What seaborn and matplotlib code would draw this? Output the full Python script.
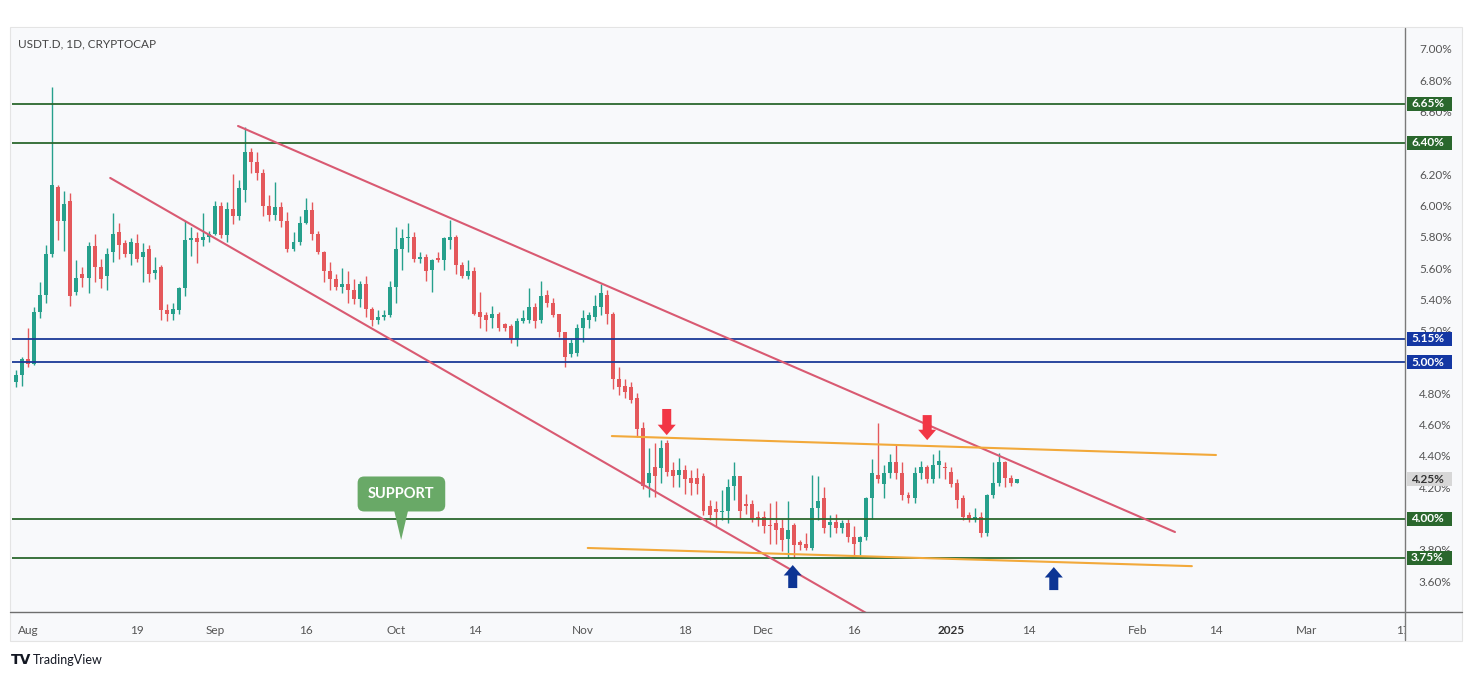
import numpy as np
import pandas as pd
import matplotlib
matplotlib.use("Agg")
import matplotlib.pyplot as plt
import seaborn as sns
from matplotlib.patches import Rectangle, Polygon
from matplotlib.lines import Line2D
import matplotlib.transforms as mtransforms

# ---------------- data (daily candles, USDT dominance %) ----------------
start_date = "2024-07-30"
opens = [4.87, 4.92, 5.02, 4.99, 5.32, 5.43, 5.69, 6.12, 5.90, 6.03, 5.45, 5.56, 5.54, 5.74, 5.61, 5.55,
         5.70, 5.83, 5.76, 5.69, 5.76, 5.67, 5.72, 5.57, 5.61, 5.33, 5.31, 5.33, 5.47, 5.78, 5.79, 5.78,
         5.80, 5.82, 6.00, 5.81, 5.98, 5.93, 6.10, 6.34, 6.28, 6.21, 6.00, 5.94, 5.99, 5.90, 5.72, 5.77,
         5.89, 5.97, 5.82, 5.70, 5.58, 5.53, 5.48, 5.50, 5.46, 5.40, 5.50, 5.34, 5.27, 5.29, 5.30, 5.48,
         5.72, 5.79, 5.80, 5.66, 5.67, 5.59, 5.665, 5.65, 5.78, 5.80, 5.62, 5.55, 5.58, 5.32, 5.30, 5.28,
         5.31, 5.24, 5.23, 5.15, 5.26, 5.27, 5.35, 5.27, 5.43, 5.38, 5.31, 5.19, 5.05, 5.06, 5.22, 5.27,
         5.29, 5.35, 5.43, 5.31, 4.89, 4.85, 4.84, 4.77, 4.58, 4.23, 4.33, 4.32, 4.48, 4.31, 4.28, 4.31,
         4.26, 4.26, 4.27, 4.08, 4.06, 4.04, 4.05, 4.21, 4.27, 4.09, 4.09, 4.01, 4.01, 3.96, 3.97, 3.94,
         3.87, 3.96, 3.85, 3.84, 3.81, 4.07, 4.13, 3.96, 3.98, 3.94, 3.97, 3.88, 3.85, 3.88, 4.13, 4.28,
         4.22, 4.29, 4.36, 4.29, 4.15, 4.13, 4.29, 4.33, 4.25, 4.34, 4.33, 4.30, 4.23, 4.13, 4.02, 4.00,
         4.01, 3.91, 4.15, 4.23, 4.36, 4.26, 4.23]
highs = [4.95, 5.03, 5.22, 5.35, 5.51, 5.75, 6.76, 6.13, 6.09, 6.08, 5.65, 5.61, 5.77, 5.82, 5.66, 5.73,
         5.95, 5.89, 5.78, 5.79, 5.82, 5.76, 5.75, 5.67, 5.62, 5.37, 5.38, 5.48, 5.90, 5.86, 5.83, 5.95,
         5.84, 6.03, 6.02, 6.02, 6.20, 6.16, 6.50, 6.37, 6.34, 6.23, 6.07, 6.15, 6.02, 5.96, 5.83, 5.93,
         6.05, 6.02, 5.84, 5.71, 5.64, 5.56, 5.60, 5.58, 5.53, 5.52, 5.55, 5.35, 5.33, 5.33, 5.52, 5.86,
         5.85, 5.89, 5.83, 5.70, 5.69, 5.66, 5.70, 5.80, 5.91, 5.81, 5.64, 5.65, 5.61, 5.45, 5.32, 5.36,
         5.32, 5.25, 5.24, 5.28, 5.33, 5.47, 5.38, 5.52, 5.46, 5.41, 5.31, 5.19, 5.15, 5.24, 5.33, 5.32,
         5.43, 5.50, 5.46, 5.32, 4.97, 4.89, 4.87, 4.80, 4.62, 4.45, 4.48, 4.50, 4.50, 4.36, 4.39, 4.34,
         4.31, 4.32, 4.29, 4.12, 4.11, 4.18, 4.25, 4.36, 4.27, 4.16, 4.12, 4.05, 4.05, 4.10, 4.11, 4.00,
         4.11, 3.97, 3.86, 3.91, 4.28, 4.27, 4.20, 4.02, 4.03, 3.99, 4.00, 3.95, 3.89, 4.14, 4.38, 4.61,
         4.34, 4.41, 4.47, 4.36, 4.17, 4.33, 4.37, 4.34, 4.41, 4.44, 4.36, 4.33, 4.25, 4.15, 4.04, 4.07,
         4.04, 4.16, 4.36, 4.42, 4.37, 4.28, 4.25]
lows = [4.84, 4.85, 4.97, 4.98, 5.28, 5.38, 5.67, 5.78, 5.71, 5.36, 5.43, 5.48, 5.44, 5.51, 5.47, 5.46,
        5.64, 5.66, 5.67, 5.62, 5.64, 5.51, 5.51, 5.53, 5.27, 5.26, 5.27, 5.31, 5.42, 5.68, 5.63, 5.74,
        5.77, 5.81, 5.79, 5.77, 5.88, 5.91, 6.02, 6.21, 6.16, 5.93, 5.90, 5.91, 5.86, 5.70, 5.71, 5.75,
        5.88, 5.78, 5.69, 5.51, 5.46, 5.46, 5.44, 5.38, 5.37, 5.35, 5.29, 5.23, 5.24, 5.27, 5.29, 5.38,
        5.59, 5.70, 5.64, 5.63, 5.52, 5.45, 5.64, 5.59, 5.72, 5.56, 5.54, 5.53, 5.30, 5.22, 5.20, 5.22,
        5.20, 5.20, 5.12, 5.10, 5.25, 5.25, 5.22, 5.25, 5.35, 5.29, 5.16, 4.97, 5.03, 5.04, 5.13, 5.22,
        5.26, 5.30, 5.24, 4.83, 4.79, 4.77, 4.74, 4.52, 4.19, 4.14, 4.14, 4.23, 4.27, 4.20, 4.20, 4.16,
        4.15, 4.16, 4.02, 3.99, 3.95, 3.99, 3.97, 4.12, 4.00, 4.03, 3.98, 3.95, 3.91, 3.84, 3.84, 3.79,
        3.75, 3.75, 3.80, 3.80, 3.80, 3.99, 3.91, 3.88, 3.91, 3.91, 3.85, 3.77, 3.77, 3.86, 4.00, 4.23,
        4.13, 4.26, 4.25, 4.12, 4.10, 4.10, 4.25, 4.23, 4.23, 4.26, 4.25, 4.20, 4.07, 3.99, 3.98, 3.98,
        3.88, 3.89, 4.13, 4.21, 4.20, 4.21, 4.23]
closes = [4.92, 5.02, 4.99, 5.32, 5.43, 5.69, 6.13, 5.90, 6.01, 5.42, 5.54, 5.54, 5.74, 5.61, 5.53, 5.69,
          5.82, 5.75, 5.69, 5.77, 5.66, 5.70, 5.56, 5.59, 5.33, 5.31, 5.34, 5.47, 5.78, 5.79, 5.77, 5.80,
          5.82, 6.00, 5.81, 5.98, 5.93, 6.11, 6.34, 6.28, 6.21, 6.00, 5.94, 5.99, 5.90, 5.72, 5.77, 5.89,
          5.97, 5.82, 5.70, 5.58, 5.53, 5.48, 5.50, 5.46, 5.40, 5.50, 5.34, 5.27, 5.29, 5.30, 5.48, 5.72,
          5.79, 5.80, 5.66, 5.67, 5.58, 5.65, 5.655, 5.79, 5.80, 5.62, 5.55, 5.58, 5.31, 5.29, 5.27, 5.31,
          5.22, 5.22, 5.15, 5.26, 5.28, 5.35, 5.26, 5.42, 5.38, 5.30, 5.19, 5.03, 5.12, 5.22, 5.28, 5.30,
          5.36, 5.44, 5.31, 4.89, 4.84, 4.81, 4.76, 4.57, 4.21, 4.29, 4.27, 4.45, 4.30, 4.27, 4.31, 4.25,
          4.23, 4.22, 4.05, 4.02, 4.04, 4.05, 4.20, 4.27, 4.05, 4.08, 4.00, 4.00, 3.95, 3.95, 3.93, 3.86,
          3.93, 3.83, 3.83, 3.81, 4.07, 4.11, 3.94, 3.98, 3.94, 3.97, 3.88, 3.84, 3.88, 4.13, 4.29, 4.25,
          4.29, 4.36, 4.29, 4.15, 4.13, 4.29, 4.33, 4.25, 4.34, 4.37, 4.32, 4.22, 4.12, 4.01, 4.00, 4.01,
          3.91, 4.15, 4.23, 4.36, 4.26, 4.23, 4.25]

# horizontal levels (value, colour key)
level_values = [6.65, 6.40, 5.15, 5.00, 4.00, 3.75]
level_kinds = ["green", "green", "blue", "blue", "green", "green"]
last_price = 4.25

# trend lines: day offsets from 2024-08-01 and values
trend_names = ["chan_top", "chan_top", "chan_bot", "chan_bot",
               "range_top", "range_top", "range_bot", "range_bot"]
trend_days = [34.8, 190.2, 13.6, 145.0, 96.8, 197.0, 92.8, 193.0]
trend_vals = [6.508, 3.914, 6.176, 3.263, 4.527, 4.406, 3.812, 3.696]

# x tick labels (date, text)
tick_dates = ["2024-08-01", "2024-08-19", "2024-09-01", "2024-09-16", "2024-10-01", "2024-10-14",
              "2024-11-01", "2024-11-18", "2024-12-01", "2024-12-16", "2025-01-01", "2025-01-14",
              "2025-02-01", "2025-02-14", "2025-03-01", "2025-03-17"]
tick_texts = ["Aug", "19", "Sep", "16", "Oct", "14", "Nov", "18", "Dec", "16", "2025", "14",
              "Feb", "14", "Mar", "17"]
price_ticks = [3.6, 3.8, 4.0, 4.2, 4.4, 4.6, 4.8, 5.0, 5.2, 5.4, 5.6, 5.8, 6.0, 6.2, 6.4, 6.6, 6.8, 7.0]

# arrows: (day, tail value, tip value)
red_arrows = [(105.9, 4.700, 4.533), (149.1, 4.661, 4.501)]
blue_arrows = [(126.8, 3.556, 3.703), (170.1, 3.543, 3.690)]

# ---------------- style ----------------
sns.set_theme(style="white")
plt.rcParams["font.family"] = ["Lato", "DejaVu Sans"]

UP = "#26a08c"
DOWN = "#e4585b"
PANEL = "#f8f9fb"
GREEN_LVL = "#2a672d"
BLUE_LVL = "#1b3a97"
PINK = "#d95a72"
ORANGE = "#f2a93a"

W, H = 1470, 677
fig = plt.figure(figsize=(W / 100, H / 100), dpi=100)
fig.patch.set_facecolor("white")

def fx(px):
    return px / W

def fy(py):
    return 1 - py / H

# panel background
fig.patches.append(Rectangle((fx(10), fy(641)), fx(1462) - fx(10), fy(27) - fy(641),
                             transform=fig.transFigure, facecolor=PANEL,
                             edgecolor="#e4e4e4", lw=0.8, zorder=-2))

ax = fig.add_axes([fx(12), fy(612), fx(1405) - fx(12), fy(28) - fy(612)])
ax.set_facecolor(PANEL)
for s in ax.spines.values():
    s.set_visible(False)

ref = pd.Timestamp("2024-08-01")
days = np.asarray((pd.date_range(start_date, periods=len(opens)) - ref).days, dtype=float)
o = np.array(opens); h = np.array(highs); l = np.array(lows); c = np.array(closes)
up = c >= o
cols = np.where(up, UP, DOWN)

# wicks
ax.vlines(days, l, h, colors=cols, linewidth=1.0, zorder=2)
# bodies
bottoms = np.minimum(o, c)
heights = np.maximum(np.abs(c - o), 0.008)
ax.bar(days, heights, bottom=bottoms, width=0.66, color=cols, linewidth=0, zorder=2.2)

# levels
for v, k in zip(level_values, level_kinds):
    ax.axhline(v, color=GREEN_LVL if k == "green" else BLUE_LVL, lw=1.3, zorder=3)

# trend lines with seaborn
tdf = pd.DataFrame({"day": trend_days, "value": trend_vals, "line": trend_names})
pal = {"chan_top": PINK, "chan_bot": PINK, "range_top": ORANGE, "range_bot": ORANGE}
sns.lineplot(data=tdf, x="day", y="value", hue="line", palette=pal, sort=False,
             legend=False, linewidth=1.5, ax=ax, zorder=3)

# arrows
for d, tail, tip in red_arrows:
    ax.annotate("", xy=(d, tip), xytext=(d, tail),
                arrowprops=dict(arrowstyle="simple,head_length=0.75,head_width=1.3,tail_width=0.65",
                                color="#f23645", mutation_scale=10, shrinkA=0, shrinkB=0, lw=0),
                zorder=4)
for d, tail, tip in blue_arrows:
    ax.annotate("", xy=(d, tip), xytext=(d, tail),
                arrowprops=dict(arrowstyle="simple,head_length=0.75,head_width=1.3,tail_width=0.65",
                                color="#0d3594", mutation_scale=10, shrinkA=0, shrinkB=0, lw=0),
                zorder=4, annotation_clip=False)

# SUPPORT callout
SUP = "#69a967"
ax.text(61.9, 4.157, "SUPPORT", ha="center", va="center", color="white", fontsize=10.5,
        fontweight="bold", zorder=5,
        bbox=dict(boxstyle="round,pad=0.72,rounding_size=0.45", facecolor=SUP, edgecolor="none"))
ax.add_patch(Polygon([(60.7, 4.05), (63.0, 4.05), (61.85, 3.863)], closed=True,
                     facecolor=SUP, edgecolor="none", zorder=5))

# limits
ax.set_xlim(-2.69, 228.35)
ax.set_ylim(3.403, 7.134)

# x ticks
tick_days = [(pd.Timestamp(t) - ref).days for t in tick_dates]
ax.set_xticks(tick_days)
ax.set_xticklabels(tick_texts)
ax.tick_params(axis="x", length=0, pad=9, labelsize=8.5, labelcolor="#555555")
for lab in ax.get_xticklabels():
    if lab.get_text() == "2025":
        lab.set_fontweight("bold")
        lab.set_color("#333333")

# y ticks on right (labels hidden where a price badge sits exactly on top)
ax.yaxis.tick_right()
ax.set_yticks(price_ticks)
ax.set_yticklabels(["" if any(abs(v - b) < 1e-6 for b in level_values) else f"{v:.2f}%"
                    for v in price_ticks])
ax.tick_params(axis="y", length=0, pad=10, labelsize=8.5, labelcolor="#555555")
ax.grid(False)
ax.set_xlabel(""); ax.set_ylabel("")

# price badges
blend = mtransforms.blended_transform_factory(ax.transAxes, ax.transData)
bx0 = (1407 - 12) / (1405 - 12)
bx1 = (1452 - 12) / (1405 - 12)
bh = 14 / 156.5
badge_vals = level_values + [last_price]
badge_fc = [GREEN_LVL if k == "green" else "#1437a3" for k in level_kinds] + ["#d7d7d7"]
badge_tc = ["white"] * len(level_values) + ["#333333"]
for v, fc, tc in zip(badge_vals, badge_fc, badge_tc):
    ax.add_patch(Rectangle((bx0, v - bh / 2), bx1 - bx0, bh, transform=blend, facecolor=fc,
                           edgecolor="none", clip_on=False, zorder=6))
    ax.text((1411 - 12) / (1405 - 12), v, f"{v:.2f}%", transform=blend, ha="left", va="center",
            fontsize=8.5, color=tc, fontweight="bold", clip_on=False, zorder=7)

# cover right part of last date label, axis lines
fig.patches.append(Rectangle((fx(1406), fy(640)), fx(1461) - fx(1406), fy(613) - fy(640),
                             transform=fig.transFigure, facecolor=PANEL, edgecolor="none", zorder=3))
fig.lines.append(Line2D([fx(10), fx(1462)], [fy(612), fy(612)], transform=fig.transFigure,
                        color="#6e6e6e", lw=1.0, zorder=4))
fig.lines.append(Line2D([fx(1405), fx(1405)], [fy(28), fy(640)], transform=fig.transFigure,
                        color="#7a7a7a", lw=1.0, zorder=4))

# title and logo
fig.text(fx(18), fy(44), "USDT.D, 1D, CRYPTOCAP", ha="left", va="center", fontsize=8.5,
         color="#444444")
fig.text(fx(11), fy(660), "TV", ha="left", va="center", fontsize=10, fontweight="heavy",
         color="#131722", family="DejaVu Sans")
fig.text(fx(33), fy(660), "TradingView", ha="left", va="center", fontsize=9, color="#131722")

fig.savefig("out.png", dpi=100, facecolor="white")
